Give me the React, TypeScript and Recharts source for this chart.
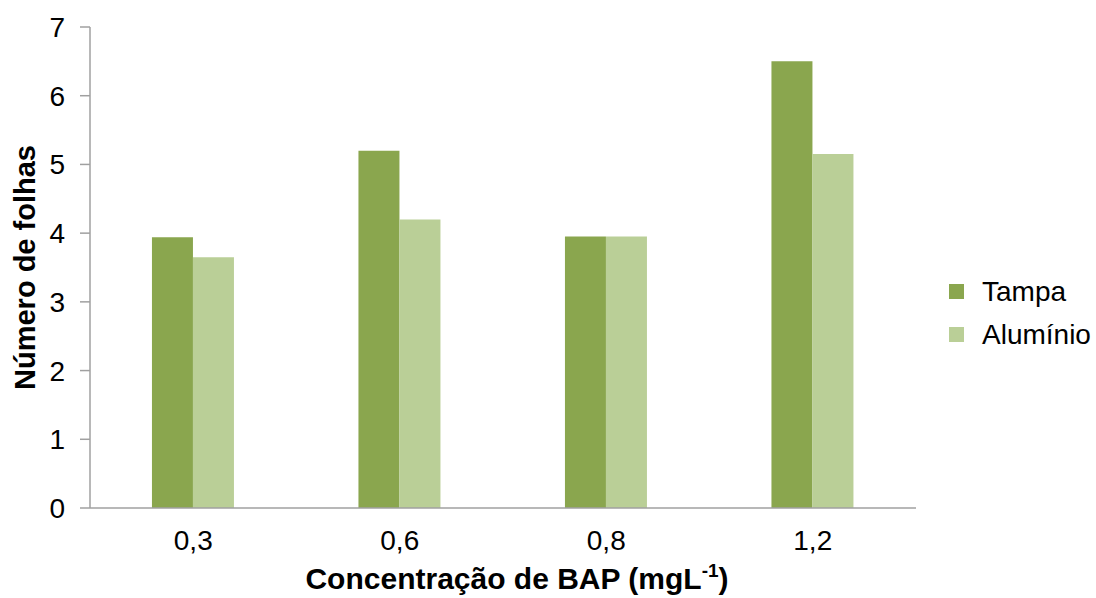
import React from "react";
import { BarChart, Bar, XAxis, YAxis, Legend, Label } from "recharts";

// BAP concentrations (mg/L) and mean number of leaves per closure type
const concentrations = ["0,3", "0,6", "0,8", "1,2"];
const tampa = [3.94, 5.2, 3.95, 6.5];
const aluminio = [3.65, 4.2, 3.95, 5.15];
const yTicks = [0, 1, 2, 3, 4, 5, 6, 7];

const seriesOrder = ["Tampa", "Alumínio"];
const colors = { tampa: "#8AA64E", aluminio: "#BACF97" };

const data = concentrations.map((c, i) => ({
  conc: c,
  tampa: tampa[i],
  aluminio: aluminio[i],
}));

const FONT = "'Liberation Sans', Arial, sans-serif";

const LegendBox = (props: any) => {
  const items = [...(props.payload || [])].sort(
    (a: any, b: any) => seriesOrder.indexOf(a.value) - seriesOrder.indexOf(b.value)
  );
  return (
    <div style={{ fontFamily: FONT, fontSize: 28, color: "#000" }}>
      {items.map((p: any) => (
        <div
          key={p.value}
          style={{ display: "flex", alignItems: "center", height: 43 }}
        >
          <span
            style={{
              display: "inline-block",
              width: 15,
              height: 15,
              background: p.color,
              marginRight: 18,
            }}
          />
          <span>{p.value}</span>
        </div>
      ))}
    </div>
  );
};

const YTitle = (props: any) => {
  const { viewBox } = props;
  const cy = viewBox.y + viewBox.height / 2;
  const x = 35;
  return (
    <text
      x={x}
      y={cy}
      transform={`rotate(-90, ${x}, ${cy})`}
      textAnchor="middle"
      fontFamily={FONT}
      fontSize={29}
      fontWeight="bold"
      fill="#000"
    >
      Número de folhas
    </text>
  );
};

const XTitle = (props: any) => {
  const { viewBox } = props;
  const cx = viewBox.x + viewBox.width / 2 + 14;
  return (
    <text
      x={cx}
      y={589}
      textAnchor="middle"
      fontFamily={FONT}
      fontSize={30}
      fontWeight="bold"
      fill="#000"
    >
      Concentração de BAP (mgL
      <tspan fontSize={19} dy={-12}>
        -1
      </tspan>
      <tspan dy={12}>)</tspan>
    </text>
  );
};

export default function App() {
  return (
    <div style={{ position: "absolute", left: 0, top: 0, background: "#fff" }}>
      <BarChart
        width={1096}
        height={598}
        data={data}
        margin={{ top: 27, right: 180, bottom: 0, left: 0 }}
        barCategoryGap="30%"
        barGap={0}
      >
        <XAxis
          dataKey="conc"
          height={90}
          axisLine={{ stroke: "#A0A0A0", strokeWidth: 1.5 }}
          tickLine={false}
          tickSize={0}
          tickMargin={22}
          tick={{ fontFamily: FONT, fontSize: 28, fill: "#000" }}
        >
          <Label content={<XTitle />} />
        </XAxis>
        <YAxis
          width={90}
          domain={[0, 7]}
          ticks={yTicks}
          interval={0}
          axisLine={{ stroke: "#A0A0A0", strokeWidth: 1.5 }}
          tickLine={{ stroke: "#A0A0A0", strokeWidth: 1.5 }}
          tickSize={10}
          tickMargin={15}
          tick={{ fontFamily: FONT, fontSize: 28, fill: "#000" }}
        >
          <Label content={<YTitle />} />
        </YAxis>
        <Legend
          layout="vertical"
          align="center"
          verticalAlign="middle"
          content={<LegendBox />}
          wrapperStyle={{ left: 949, top: 270, width: 147 }}
        />
        <Bar
          dataKey="tampa"
          name="Tampa"
          fill={colors.tampa}
          isAnimationActive={false}
        />
        <Bar
          dataKey="aluminio"
          name="Alumínio"
          fill={colors.aluminio}
          isAnimationActive={false}
        />
      </BarChart>
    </div>
  );
}
